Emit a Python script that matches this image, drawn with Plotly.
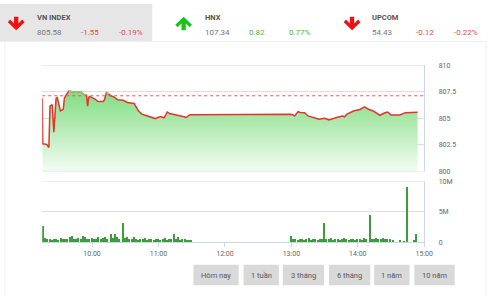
import plotly.graph_objects as go

W, H = 501, 300
DAY = "2019-06-14 "

# ---------------- data ----------------
REF = 807.13
PRICE_TIMES = ["09:15:00", "09:15:30", "09:19:00", "09:21:00", "09:22:00", "09:24:00", "09:25:30",
               "09:27:30", "09:28:30", "09:31:30", "09:34:00", "09:35:00", "09:36:00", "09:39:00",
               "09:42:00", "09:45:00", "09:50:00", "09:53:00", "09:55:00", "09:56:00", "09:57:00",
               "09:58:00", "10:00:00", "10:03:00", "10:05:00", "10:10:00", "10:11:00", "10:13:00",
               "10:15:00", "10:17:00", "10:20:00", "10:23:00", "10:28:00", "10:32:00", "10:35:00",
               "10:38:00", "10:42:00", "10:45:00", "10:50:00", "10:53:00", "10:57:00", "11:00:00",
               "11:02:00", "11:05:00", "11:08:00", "11:10:00", "11:14:00", "11:17:00", "11:20:00",
               "11:23:00", "11:25:00", "11:28:00", "11:30:00", "13:00:00", "13:03:00", "13:06:00",
               "13:08:00", "13:12:00", "13:15:00", "13:19:00", "13:25:00", "13:30:00", "13:34:00",
               "13:40:00", "13:46:00", "13:48:00", "13:50:00", "13:56:00", "14:02:00", "14:06:00",
               "14:10:00", "14:14:00", "14:20:00", "14:24:00", "14:27:00", "14:30:00", "14:38:00",
               "14:43:00", "14:54:00"]
PRICE = [806.9, 802.6, 802.55, 802.25, 806.15, 806.3, 803.7,
         806.9, 806.95, 805.7, 805.85, 806.9, 807.1, 807.58,
         807.5, 807.46, 807.5, 807.22, 807.2, 806.15, 807.0,
         807.06, 806.95, 806.8, 806.61, 806.6, 806.7, 807.43,
         807.3, 807.13, 807.0, 806.76, 806.7, 806.5, 806.45,
         806.4, 805.69, 805.4, 805.23, 805.1, 804.98, 805.1,
         805.17, 805.05, 805.6, 805.45, 805.38, 805.3, 805.23,
         805.15, 805.08, 805.32, 805.35, 805.38, 805.23, 805.63,
         805.55, 805.54, 805.23, 805.08, 804.92, 805.0, 804.86,
         805.05, 805.23, 805.15, 805.38, 805.69, 805.84, 806.09,
         805.84, 805.69, 805.29, 805.5, 805.6, 805.32, 805.32,
         805.54, 805.58]

VOL_TIMES = ["09:16", "09:18", "09:20", "09:22", "09:24", "09:26", "09:28", "09:30", "09:32", "09:34",
             "09:36", "09:38", "09:40", "09:42", "09:44", "09:46", "09:48", "09:50", "09:52", "09:54",
             "09:56", "09:58", "10:00", "10:02", "10:04", "10:06", "10:08", "10:10", "10:12", "10:14",
             "10:17", "10:19", "10:21", "10:23", "10:25", "10:28", "10:30", "10:32", "10:34", "10:36",
             "10:38", "10:40", "10:42", "10:44", "10:46", "10:48", "10:50", "10:52", "10:54", "10:56",
             "10:58", "11:00", "11:02", "11:04", "11:06", "11:08", "11:10", "11:12", "11:14", "11:16",
             "11:18", "11:20", "11:22", "11:24", "11:26", "11:28", "11:30",
             "13:00", "13:02", "13:04", "13:06", "13:08", "13:10", "13:12", "13:14", "13:16", "13:18",
             "13:20", "13:22", "13:24", "13:26", "13:28", "13:30", "13:32", "13:34", "13:36", "13:38",
             "13:40", "13:42", "13:44", "13:46", "13:48", "13:50", "13:52", "13:54", "13:56", "13:58",
             "14:00", "14:02", "14:04", "14:06", "14:08", "14:11", "14:13", "14:15", "14:17", "14:19",
             "14:21", "14:23", "14:25", "14:27", "14:29", "14:32", "14:38", "14:42", "14:45", "14:51",
             "14:53"]
VOLUME_M = [2.6, 0.7, 0.5, 0.6, 0.4, 0.5, 0.6, 0.4, 0.7, 0.5,
            0.6, 0.5, 0.8, 1.0, 0.6, 0.5, 0.7, 0.6, 1.0, 0.9,
            0.5, 0.6, 0.7, 0.5, 0.6, 0.8, 0.5, 0.7, 0.9, 0.6,
            1.3, 0.7, 1.4, 0.8, 0.6, 3.1, 0.7, 0.9, 0.5, 0.6,
            0.8, 0.5, 0.4, 0.6, 0.5, 0.7, 0.4, 0.5, 0.6, 0.4,
            0.5, 0.6, 0.4, 0.5, 0.7, 0.4, 0.5, 0.6, 1.3, 0.5,
            0.9, 0.4, 0.6, 0.5, 0.4, 0.3, 0.3,
            1.0, 0.5, 0.6, 0.4, 0.5, 0.6, 0.4, 0.5, 0.7, 0.4,
            0.5, 0.6, 0.4, 0.5, 0.6, 3.1, 0.6, 0.5, 0.7, 0.4,
            0.5, 0.6, 0.4, 0.5, 0.7, 0.5, 0.4, 0.6, 0.5, 0.4,
            0.6, 0.5, 0.4, 0.7, 0.5, 4.4, 0.6, 0.5, 0.7, 0.6,
            0.5, 0.7, 0.5, 0.6, 0.5, 0.4, 0.3, 0.2, 9.1, 0.4,
            1.3]

Y_TICKS = [800, 802.5, 805, 807.5, 810]
Y_TICK_TEXT = ["800", "802.5", "805", "807.5", "810"]
V_TICKS = [0, 5e6, 10e6]
V_TICK_TEXT = ["0", "5M", "10M"]

INDICES = ["VN INDEX", "HNX", "UPCOM"]
IDX_VALUE = ["805.58", "107.34", "54.43"]
IDX_CHANGE = ["-1.55", "0.82", "-0.12"]
IDX_PCT = ["-0.19%", "0.77%", "-0.22%"]
IDX_UP = [False, True, False]
BUTTONS = ["Hôm nay", "1 tuần", "3 tháng", "6 tháng", "1 năm", "10 năm"]

# ---------------- helpers ----------------
def px(x):
    return x / W


def py(y):
    return 1 - y / H


FONT = "Roboto"
GREY = "#666666"
RED = "#e8322c"

pt = [DAY + t for t in PRICE_TIMES]
above = [v if v > REF else None for v in PRICE]
vt = [DAY + t + ":00" for t in VOL_TIMES]
vol = [v * 1e6 for v in VOLUME_M]

fig = go.Figure()

fig.add_trace(go.Scatter(
    x=pt, y=PRICE, mode="lines", xaxis="x", yaxis="y",
    line=dict(color=RED, width=1.5),
    fill="tozeroy",
    fillgradient=dict(type="vertical", start=800, stop=807.6,
                      colorscale=[[0, "rgba(246,253,246,1)"], [1, "rgba(128,220,128,1)"]]),
    hoverinfo="skip", showlegend=False))
fig.add_trace(go.Scatter(
    x=pt, y=above, mode="lines", xaxis="x", yaxis="y",
    line=dict(color="#7fd97f", width=1.5), connectgaps=False,
    hoverinfo="skip", showlegend=False))
fig.add_trace(go.Scatter(
    x=[DAY + "09:15:00", DAY + "15:00:00"], y=[REF, REF], mode="lines", xaxis="x", yaxis="y",
    line=dict(color="#ee5555", width=1, dash="dot"),
    hoverinfo="skip", showlegend=False))
fig.add_trace(go.Bar(
    x=vt, y=vol, xaxis="x2", yaxis="y2", width=70000,
    marker=dict(color="#3a9e3a", line=dict(width=0)),
    hoverinfo="skip", showlegend=False))

XR = [DAY + "09:15:00", DAY + "15:00:00"]
XDOM = [px(43), px(432)]
AXLINE = "#ccd6eb"
GRID = "#dedede"

fig.update_layout(
    width=W, height=H, margin=dict(l=0, r=0, t=0, b=0),
    paper_bgcolor="white", plot_bgcolor="white",
    font=dict(family=FONT, color=GREY, size=7),
    bargap=0,
    xaxis=dict(domain=XDOM, range=XR, type="date", anchor="y", showgrid=False,
               showticklabels=False, zeroline=False, showline=False),
    xaxis2=dict(domain=XDOM, range=XR, type="date", anchor="y2", matches="x", showgrid=False,
                tickformat="%H:%M", dtick=3600000, tick0=DAY + "10:00:00",
                ticks="outside", ticklen=4, tickcolor=AXLINE, showline=True, linecolor=AXLINE,
                linewidth=1, tickfont=dict(size=7, color=GREY), zeroline=False),
    yaxis=dict(domain=[py(172), py(63)], range=[800, 810], side="right", anchor="x",
               tickvals=Y_TICKS, ticktext=Y_TICK_TEXT, gridcolor=GRID, gridwidth=1,
               showline=True, linecolor=AXLINE, linewidth=1, zeroline=False,
               ticks="", ticklabelstandoff=12, tickfont=dict(size=7, color=GREY)),
    yaxis2=dict(domain=[py(245), py(182)], range=[0, 10e6], side="right", anchor="x2",
                tickvals=V_TICKS, ticktext=V_TICK_TEXT, gridcolor=GRID, gridwidth=1,
                showline=True, linecolor=AXLINE, linewidth=1, zeroline=False,
                ticks="", ticklabelstandoff=12, tickfont=dict(size=7, color=GREY)),
)

shapes = []
annotations = []

# edge gridlines (plotly clips gridlines at the plot edges)
for yref, yv in [("y", 810), ("y", 800), ("y2", 10e6)]:
    shapes.append(dict(type="line", xref="paper", yref=yref, x0=XDOM[0], x1=XDOM[1], y0=yv, y1=yv,
                       line=dict(color=GRID, width=1), layer="above"))
# faint gridlines over the fill
for yv in [802.5, 805]:
    shapes.append(dict(type="line", xref="paper", yref="y", x0=XDOM[0], x1=XDOM[1], y0=yv, y1=yv,
                       line=dict(color="rgba(200,200,200,0.35)", width=1), layer="below"))

# header selected box and frame lines
shapes.append(dict(type="rect", xref="paper", yref="paper", x0=px(0), x1=px(155), y0=py(38), y1=py(0),
                   fillcolor="#e6e6e6", line=dict(width=0), layer="below"))
shapes.append(dict(type="line", xref="paper", yref="paper", x0=px(0), x1=px(495), y0=py(38.5), y1=py(38.5),
                   line=dict(color="#eeeeee", width=1)))
shapes.append(dict(type="line", xref="paper", yref="paper", x0=px(5), x1=px(5), y0=py(39), y1=py(300),
                   line=dict(color="#f0f0f0", width=1)))
shapes.append(dict(type="line", xref="paper", yref="paper", x0=px(495), x1=px(495), y0=py(39), y1=py(300),
                   line=dict(color="#eeeeee", width=1)))


def arrow(cx, up, color):
    pts = [(-2.2, -7), (2.2, -7), (2.2, 0), (6.2, -4), (8.5, -1.3), (0, 7), (-8.5, -1.3), (-6.2, -4), (-2.2, 0)]
    cy = 20
    path = ""
    for i, (dx, dy) in enumerate(pts):
        if up:
            dy = -dy
        path += ("M" if i == 0 else "L") + f"{px(cx + dx):.5f},{py(cy + dy):.5f} "
    path += "Z"
    return dict(type="path", xref="paper", yref="paper", path=path, fillcolor=color, line=dict(width=0))


ARROW_X = [16.5, 187, 358.5]
TEXT_X = [36, 207, 377]
for i, name in enumerate(INDICES):
    col = "#19c419" if IDX_UP[i] else "#ee1111"
    shapes.append(arrow(ARROW_X[i], IDX_UP[i], col))
    chg_col = "#3cc13c" if IDX_UP[i] else "#ee4444"
    x0 = TEXT_X[i]
    annotations.append(dict(text="<b>" + name + "</b>", x=px(x0), y=py(13.5), xref="paper", yref="paper",
                            xanchor="left", yanchor="middle", showarrow=False,
                            font=dict(size=7.5, color="#555555", family=FONT)))
    annotations.append(dict(text=IDX_VALUE[i], x=px(x0), y=py(29), xref="paper", yref="paper",
                            xanchor="left", yanchor="middle", showarrow=False,
                            font=dict(size=8, color="#777777", family=FONT)))
    annotations.append(dict(text=IDX_CHANGE[i], x=px(x0 + 44.5), y=py(29), xref="paper", yref="paper",
                            xanchor="left", yanchor="middle", showarrow=False,
                            font=dict(size=8, color=chg_col, family=FONT)))
    annotations.append(dict(text=IDX_PCT[i], x=px(x0 + 112), y=py(29), xref="paper", yref="paper",
                            xanchor="right", yanchor="middle", showarrow=False,
                            font=dict(size=8, color=chg_col, family=FONT)))

# buttons
BTN_X = [(197, 243), (248, 284), (288, 330), (335, 377), (381, 417), (422, 463)]
for label, (a, b) in zip(BUTTONS, BTN_X):
    shapes.append(dict(type="rect", xref="paper", yref="paper", x0=px(a), x1=px(b), y0=py(289), y1=py(268),
                       fillcolor="#d9d9d9", line=dict(width=0)))
    annotations.append(dict(text=label, x=px((a + b) / 2), y=py(278.5), xref="paper", yref="paper",
                            xanchor="center", yanchor="middle", showarrow=False,
                            font=dict(size=7.5, color="#555555", family=FONT)))

fig.update_layout(shapes=shapes, annotations=annotations)
fig.write_html("out.html")
